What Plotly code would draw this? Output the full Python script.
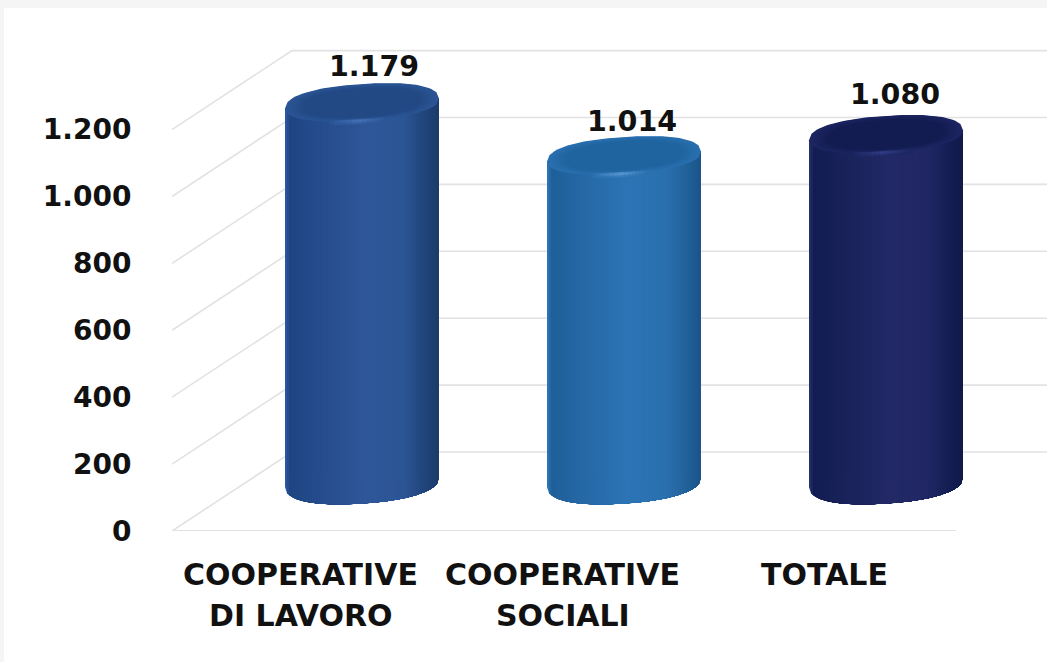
import plotly.graph_objects as go

# Chart content
categories = ["COOPERATIVE", "COOPERATIVE", "TOTALE"]
second_lines = ["DI LAVORO", "SOCIALI", ""]
values = [1179, 1014, 1080]
value_labels = ["1.179", "1.014", "1.080"]
axis_ticks = [0, 200, 400, 600, 800, 1000, 1200]

# Scale of the drawing: pixels per value unit and per category slot
WIDTH, HEIGHT = 1047, 662
LEFT, FLOOR = 172, 531
PX_PER_UNIT = 0.3345
PX_PER_CAT = 262.0
x_min = -(300.5 - LEFT) / PX_PER_CAT
x_max = x_min + (WIDTH - LEFT) / PX_PER_CAT


def dx(px):
    return px / PX_PER_CAT


def dy(px):
    return px / PX_PER_UNIT


y_max = dy(FLOOR)

# Oblique depth of the box and the position of the cylinders inside it
BACK_X, BACK_Y = dx(120), dy(79)
MID_X, MID_Y = dx(61.5), dy(49)
HEIGHT_FACTOR = 0.96
RADIUS_X, RADIUS_Y, SKEW = dx(77), dy(21.5), dy(5)
ROUNDNESS = 2.3

# Small offsets of the value labels from the cap, in pixels (right, up)
label_nudge = [(12, 35), (8, 33), (9, 38)]

GRID = "#e2e2e2"
TEXT = "#111111"
FONT = "DejaVu Sans"

# Per-cylinder shading: stops across the body, then cap, rim and highlight
palettes = [
    {"body": [(-1.0, "#2b5ea8"), (-0.94, "#1f4682"), (-0.55, "#254c8c"), (0.05, "#2e579a"),
              (0.55, "#2c5595"), (0.85, "#1f4278"), (1.0, "#1c3a6b")],
     "rim": "#2b5596", "cap": "#224983", "glow": "#4470b6"},
    {"body": [(-1.0, "#2f78b8"), (-0.94, "#1f5f99"), (-0.55, "#2568a6"), (0.05, "#2c74b5"),
              (0.55, "#2a70ae"), (0.85, "#1f5f97"), (1.0, "#1b5488")],
     "rim": "#2a70b0", "cap": "#1f649e", "glow": "#5796d0"},
    {"body": [(-1.0, "#26336f"), (-0.94, "#121d52"), (-0.55, "#192259"), (0.05, "#222966"),
              (0.55, "#202764"), (0.85, "#131d52"), (1.0, "#101a49")],
     "rim": "#1d2661", "cap": "#131c51", "glow": "#2e3d85"},
]


def hex_rgb(c):
    return tuple(int(c[i:i + 2], 16) for i in (1, 3, 5))


def mix(a, b, f):
    ra, rb = hex_rgb(a), hex_rgb(b)
    return "#%02x%02x%02x" % tuple(round(p + (q - p) * f) for p, q in zip(ra, rb))


def shade(stops, u):
    for (u0, c0), (u1, c1) in zip(stops, stops[1:]):
        if u <= u1:
            return mix(c0, c1, (u - u0) / (u1 - u0))
    return stops[-1][1]


def half_height(u):
    return RADIUS_Y * max(0.0, 1 - abs(u) ** ROUNDNESS) ** (1 / ROUNDNESS)


def add_poly(fig, xs, ys, color):
    fig.add_trace(go.Scatter(x=xs, y=ys, mode="lines", fill="toself", fillcolor=color,
                             line=dict(width=0), hoverinfo="skip"))


def add_cylinder(fig, pos, value, pal):
    cx = pos + MID_X
    base = MID_Y
    top = base + value * HEIGHT_FACTOR

    # Body painted left to right, each layer reaching the right edge, so no seams show
    n = 76
    arc = [-1 + 2 * j / n for j in range(n + 1)]
    for i in range(n):
        us = arc[i:]
        color = shade(pal["body"], (arc[i] + arc[i + 1]) / 2)
        xs = [cx + RADIUS_X * u for u in us] + [cx + RADIUS_X, cx + RADIUS_X * us[0]]
        ys = [base + SKEW * u - half_height(u) for u in us] + [top + SKEW, top + SKEW * us[0]]
        add_poly(fig, xs, ys, color)

    # Soft highlight along the front of the bevel, under and over the cap edge
    def glow(width, strength):
        steps = 16
        for s in range(steps):
            f = 1 - abs(2 * s / (steps - 1) - 1)
            u0, u1 = -0.42 + 0.76 * s / steps, -0.42 + 0.76 * (s + 1) / steps
            xs = [cx + RADIUS_X * u0, cx + RADIUS_X * u1]
            ys = [top + SKEW * u - half_height(u) * 0.8 for u in (u0, u1)]
            fig.add_trace(go.Scatter(x=xs, y=ys, mode="lines", hoverinfo="skip",
                                     line=dict(color=mix(pal["rim"], pal["glow"], f * strength), width=width)))

    glow(7, 0.35)

    # Top cap: nested ellipses running from the bevelled rim to the flat centre
    rings = 12
    for r in range(rings):
        k = 1 - 0.25 * r / (rings - 1)
        color = mix(pal["rim"], pal["cap"], r / (rings - 1))
        m = 60
        us = [-1 + 2 * j / m for j in range(m + 1)]
        xs = [cx + RADIUS_X * k * u for u in us] + [cx + RADIUS_X * k * u for u in reversed(us)]
        ys = ([top + SKEW * k * u - half_height(u) * k * 0.8 for u in us]
              + [top + SKEW * k * u + half_height(u) * k * 0.9 for u in reversed(us)])
        add_poly(fig, xs, ys, color)

    glow(3, 1.0)


fig = go.Figure()

# Back wall and side wall gridlines, then the front floor edge
for t in axis_ticks:
    fig.add_trace(go.Scatter(x=[dx(LEFT - 300.5), dx(LEFT - 300.5) + BACK_X, x_max],
                             y=[t, t + BACK_Y, t + BACK_Y],
                             mode="lines", line=dict(color=GRID, width=1.6), hoverinfo="skip"))
fig.add_trace(go.Scatter(x=[x_min, x_min + dx(784)], y=[0, 0], mode="lines",
                         line=dict(color=GRID, width=2), hoverinfo="skip", cliponaxis=False))

for i, (val, pal) in enumerate(zip(values, palettes)):
    add_cylinder(fig, i, val, pal)

# Value labels above the caps
fig.add_trace(go.Scatter(
    x=[i + MID_X + dx(n[0]) for i, n in enumerate(label_nudge)],
    y=[MID_Y + v * HEIGHT_FACTOR + dy(n[1]) for v, n in zip(values, label_nudge)],
    mode="text", text=value_labels, textposition="middle center",
    textfont=dict(family=FONT, size=28.5, color=TEXT, weight="bold"), hoverinfo="skip",
))

# The second line of each category label sits on a wider leading than a tick label allows
for i, line in enumerate(second_lines):
    if line:
        fig.add_annotation(x=i, y=0, xref="x", yref="paper", yshift=-65, yanchor="top", showarrow=False,
                           text=line, font=dict(family=FONT, size=30, color=TEXT, weight="bold"))

fig.update_layout(
    width=WIDTH, height=HEIGHT, margin=dict(l=LEFT, r=0, t=0, b=HEIGHT - FLOOR),
    paper_bgcolor="white", plot_bgcolor="rgba(0,0,0,0)", showlegend=False, separators=",.",
    shapes=[
        dict(type="rect", xref="paper", yref="paper", layer="below", line_width=0, fillcolor="#f5f5f5",
             x0=-LEFT / (WIDTH - LEFT), x1=1, y0=(FLOOR - 8) / FLOOR, y1=1),
        dict(type="rect", xref="paper", yref="paper", layer="below", line_width=0, fillcolor="#f5f5f5",
             x0=-LEFT / (WIDTH - LEFT), x1=(4 - LEFT) / (WIDTH - LEFT), y0=-(HEIGHT - FLOOR) / FLOOR, y1=1),
    ],
)
fig.update_xaxes(
    range=[x_min, x_max], tickvals=list(range(len(categories))), ticktext=categories,
    showgrid=False, zeroline=False, showline=False, ticks="outside", ticklen=17, tickcolor="rgba(0,0,0,0)",
    tickfont=dict(family=FONT, size=30, color=TEXT, weight="bold"),
)
fig.update_yaxes(
    range=[0, y_max], tickvals=axis_ticks, tickformat=",d",
    showgrid=False, zeroline=False, showline=False, ticks="outside", ticklen=34, tickcolor="rgba(0,0,0,0)",
    tickfont=dict(family=FONT, size=28, color=TEXT, weight="bold"),
)

fig.write_html("out.html")
